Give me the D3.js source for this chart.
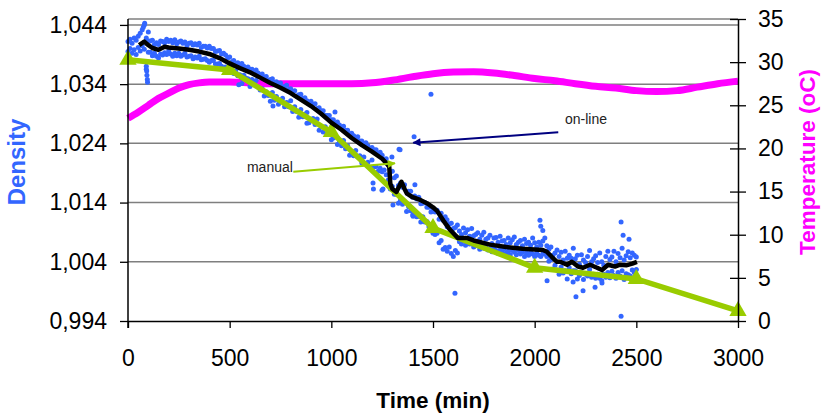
<!DOCTYPE html>
<html><head><meta charset="utf-8">
<script src="https://cdn.jsdelivr.net/npm/d3@7"></script>
<style>
body{margin:0;background:#fff}
svg{display:block}
text{font-family:"Liberation Sans",Arial,Helvetica,sans-serif}
</style>
</head><body>
<svg id="chart" width="822" height="414"></svg>
<script>
// ---------------- DATA ----------------
const timeTicks = [0,500,1000,1500,2000,2500,3000];
const densityTicks = [0.994,1.004,1.014,1.024,1.034,1.044];
const densityTickLabels = ["0,994","1,004","1,014","1,024","1,034","1,044"];
const tempTicks = [0,5,10,15,20,25,30,35];

// manual density measurements (green)
const manualTimes = [0,500,1000,1500,2000,2500,3000];
const manualDensity = [1.0381,1.0364,1.0259,1.0097,1.0030,1.0011,0.9957];

// on-line density readings (blue), sampled every 10 min from 0 to 2500
const onlineTimes = d3.range(0, 2501, 10);
const onlineDensityA = [
1.0412,1.0416,1.0409,1.0418,1.0414,1.0421,1.0426,1.0432,1.0440,1.0418,1.0413,
1.0413,1.0414,1.0407,1.0410,1.0407,1.0413,1.0412,1.0410,1.0416,1.0412,1.0414,1.0410,1.0415,1.0408,1.0411,1.0413,1.0409,1.0411,1.0405,1.0409,
1.0410,1.0406,1.0408,1.0406,1.0409,1.0402,1.0404,1.0404,1.0401,1.0404,1.0400,1.0400,1.0395,1.0396,1.0397,1.0391,1.0392,1.0389,1.0384,1.0386,
1.0378,1.0380,1.0373,1.0376,1.0371,1.0375,1.0370,1.0365,1.0369,1.0365,1.0365,1.0359,1.0364,1.0359,1.0355,1.0357,1.0352,1.0353,1.0346,1.0348,
1.0349,1.0343,1.0344,1.0341,1.0342,1.0335,1.0336,1.0338,1.0331,1.0332,1.0328,1.0329,1.0320,1.0322,1.0323,1.0316,1.0317,1.0312,1.0308,1.0311,
1.0306,1.0307,1.0299,1.0300,1.0295,1.0295,1.0287,1.0287,1.0287,1.0280,1.0280,1.0274,1.0276,1.0271,1.0266,1.0269,1.0262,1.0262,1.0256,1.0257,
1.0253,1.0247,1.0251,1.0244,1.0244,1.0239,1.0241,1.0236,1.0230,1.0233,1.0229,1.0229,1.0223,1.0225,1.0220,1.0213,1.0214,
1.0204,1.0192,1.0193,1.0182,1.0185,1.0169,1.0173,1.0166,1.0170,1.0159,1.0159,1.0159,1.0149,1.0151,1.0146,1.0149,1.0138,1.0139,1.0140,1.0132,
1.0132,1.0124,1.0126,
1.0124,1.0127,1.0112,1.0122,1.0110,1.0116,1.0099,1.0104,1.0105,1.0096,1.0098,1.0102,
1.0092,1.0086,1.0097,1.0089,1.0094,1.0083,1.0096,1.0084,1.0086,1.0089,1.0078,1.0085,1.0090,1.0078,1.0080,1.0085,1.0071,1.0080,1.0081,1.0073,
1.0083,1.0075,1.0076,1.0069,1.0080,1.0072,1.0077,1.0082,1.0069,1.0073,1.0076,1.0067,1.0078,1.0071,1.0073,1.0068,1.0080,1.0072,1.0065,1.0073,
1.0068,1.0075,1.0080,1.0067,
1.0061,1.0065,1.0051,1.0055,1.0060,1.0049,1.0056,1.0043,1.0058,1.0046,1.0051,1.0046,1.0063,1.0045,1.0051,1.0036,1.0052,1.0043,1.0039,1.0049,
1.0059,1.0040,1.0045,1.0050,1.0039,1.0055,1.0040,1.0034,1.0049,1.0058,1.0044,1.0048,1.0058,1.0040,1.0054,1.0047,1.0063,1.0043,1.0050,1.0057,
1.0047,1.0055,1.0051,1.0048
];
const onlineDensityB = [
1.0395,1.0400,1.0392,1.0398,1.0390,1.0402,1.0396,1.0405,1.0399,1.0365,1.0394,
1.0394,1.0388,1.0392,1.0387,1.0384,1.0391,1.0389,1.0393,1.0390,1.0396,1.0391,1.0387,1.0392,1.0388,1.0392,1.0387,1.0389,1.0392,1.0386,1.0387,
1.0388,1.0383,1.0386,1.0384,1.0387,1.0381,1.0382,1.0383,1.0380,1.0377,1.0380,1.0380,1.0374,1.0374,1.0375,1.0370,1.0366,1.0369,1.0366,1.0362,
1.0363,1.0358,1.0362,1.0354,1.0356,1.0350,1.0355,1.0350,1.0349,1.0343,1.0348,1.0341,1.0346,1.0335,1.0330,1.0332,1.0320,1.0327,1.0321,1.0311,
1.0326,1.0313,1.0319,1.0306,1.0312,1.0316,1.0302,1.0309,1.0302,1.0312,1.0294,1.0302,1.0294,1.0284,1.0297,1.0285,1.0289,1.0292,1.0275,1.0280,
1.0282,1.0272,1.0281,1.0262,1.0268,1.0259,1.0268,1.0256,1.0258,1.0246,1.0249,1.0253,1.0238,1.0244,1.0236,1.0245,1.0231,1.0236,1.0220,1.0226,
1.0219,1.0228,1.0217,1.0219,1.0207,1.0217,1.0206,1.0208,1.0199,1.0212,1.0200,1.0201,1.0193,1.0198,1.0192,1.0195,1.0187,
1.0178,1.0163,1.0167,1.0154,1.0154,1.0139,1.0144,1.0137,1.0142,1.0125,1.0133,1.0126,1.0119,1.0125,1.0116,1.0117,1.0107,1.0116,1.0107,1.0108,
1.0099,1.0099,1.0088,
1.0086,1.0088,1.0072,1.0076,1.0061,1.0064,1.0058,1.0065,1.0054,1.0049,1.0059,1.0055,
1.0074,1.0070,1.0076,1.0068,1.0073,1.0070,1.0074,1.0065,1.0067,1.0069,1.0061,1.0066,1.0063,1.0067,1.0060,1.0062,1.0057,1.0063,1.0059,1.0054,
1.0060,1.0057,1.0062,1.0055,1.0058,1.0052,1.0059,1.0056,1.0052,1.0059,1.0053,1.0056,1.0049,1.0055,1.0051,1.0056,1.0053,1.0049,1.0055,1.0051,
1.0049,1.0053,1.0053,1.0049,
1.0041,1.0044,1.0028,1.0034,1.0026,1.0019,1.0031,1.0021,1.0025,1.0011,1.0030,1.0020,1.0025,1.0025,1.0011,1.0017,1.0022,1.0010,1.0019,1.0016,
1.0027,1.0014,1.0019,1.0012,1.0019,1.0012,1.0008,1.0019,1.0014,1.0022,1.0013,1.0024,1.0017,1.0012,1.0022,1.0016,1.0025,1.0010,1.0020,1.0018,
1.0016,1.0026,1.0022,1.0027
];
// scattered on-line readings away from the main band
const outlierTimes = [75,82,100,88,90,92,93,95,96,545,560,600,713,880,1018,1205,1207,1249,1254,1298,1303,1333,1338,1402,1407,1411,1490,1569,1608,2026,2030,2040,2061,2189,2203,2238,2297,2331,2425,2425,2435,2464];
const outlierDensity = [1.0436,1.0443,1.0428,1.0378,1.0370,1.0362,1.0355,1.0348,1.0343,1.0339,1.0341,1.0336,1.0303,1.0274,1.0293,1.0173,1.0163,1.0161,1.0163,1.0217,1.0136,1.0230,1.0229,1.0117,1.0251,1.0170,1.0323,1.0111,0.9987,1.0110,1.0100,1.0093,1.0008,1.0006,0.9981,0.9991,0.9997,1.0004,0.9948,1.0107,1.0085,1.0078];

// smoothed on-line density (black)
const smoothTimes = [55,80,95,120,150,180,200,250,300,350,400,450,500,550,600,650,700,750,800,850,900,950,1000,1050,1100,1150,1200,1250,1275,1285,1290,1300,1320,1345,1360,1372,1400,1440,1470,1500,1520,1550,1584,1623,1650,1670,1700,1780,1860,1940,2040,2060,2085,2110,2125,2159,2183,2213,2238,2272,2307,2331,2361,2395,2420,2450,2480,2503];
const smoothDensity = [1.0406,1.0412,1.0407,1.0401,1.0398,1.0403,1.0402,1.0400,1.0398,1.0395,1.0391,1.0384,1.0375,1.0367,1.0360,1.0351,1.0342,1.0334,1.0325,1.0314,1.0303,1.0290,1.0275,1.0263,1.0249,1.0237,1.0226,1.0214,1.0205,1.0200,1.0172,1.0163,1.0158,1.0175,1.0163,1.0155,1.0149,1.0144,1.0139,1.0132,1.0126,1.0110,1.0094,1.0080,1.0080,1.0080,1.0076,1.0069,1.0065,1.0062,1.0060,1.0057,1.0048,1.0040,1.0040,1.0035,1.0040,1.0032,1.0030,1.0035,1.0030,1.0026,1.0035,1.0032,1.0035,1.0034,1.0037,1.0040];

// temperature (magenta, right axis)
const tempTimes = [0,50,100,150,200,250,300,350,400,500,600,700,800,900,1000,1100,1200,1300,1400,1500,1600,1700,1800,1900,2000,2100,2200,2300,2400,2500,2600,2700,2800,2900,3000];
const tempValues = [23.5,24.2,25.0,25.8,26.4,27.0,27.4,27.6,27.7,27.7,27.6,27.5,27.5,27.5,27.5,27.5,27.6,27.9,28.3,28.65,28.85,28.9,28.75,28.45,28.1,27.85,27.5,27.2,27.0,26.7,26.6,26.7,27.1,27.5,27.8];

// ---------------- CHART ----------------
const W = 822, H = 414;
const M = {left:128, right:84, top:19, bottom:93};
const x = d3.scaleLinear().domain([0,3000]).range([M.left, W - M.right]);
const yL = d3.scaleLinear().domain([0.994,1.045]).range([H - M.bottom, M.top]);
const yR = d3.scaleLinear().domain([0,35]).range([H - M.bottom, M.top]);

const BLUE = "#3366ff", MAGENTA = "#ff00ff", GREEN = "#99cc00", NAVY = "#000080";
const svg = d3.select("#chart");

const defs = svg.append("defs");
function marker(id, color){
  defs.append("marker").attr("id", id).attr("viewBox","0 0 10 10")
    .attr("refX", 9).attr("refY", 5).attr("markerWidth", 4.5).attr("markerHeight", 4)
    .attr("markerUnits","strokeWidth").attr("orient","auto")
    .append("path").attr("d","M0,0 L10,5 L0,10 Z").attr("fill", color);
}
marker("arrGreen", GREEN);
marker("arrNavy", NAVY);

// gridlines
const grid = svg.append("g");
grid.selectAll("line.g").data(densityTicks.slice(1)).join("line")
  .attr("x1", x(0)).attr("x2", x(3000))
  .attr("y1", d => yL(d)).attr("y2", d => yL(d))
  .attr("stroke", "#7f7f7f").attr("stroke-width", 1.5);
grid.append("line").attr("x1", x(0)).attr("x2", x(3000))
  .attr("y1", yL(1.045)).attr("y2", yL(1.045))
  .attr("stroke", "#7f7f7f").attr("stroke-width", 1.5);

// temperature line
svg.append("path")
  .datum(tempTimes.map((t,i)=>[t,tempValues[i]]))
  .attr("fill","none").attr("stroke",MAGENTA).attr("stroke-width",7)
  .attr("d", d3.line().x(d=>x(d[0])).y(d=>yR(d[1])).curve(d3.curveMonotoneX));

// blue on-line points
const pts = [];
onlineTimes.forEach((t,i)=>{ pts.push([t,onlineDensityA[i]]); pts.push([t,onlineDensityB[i]]); });
outlierTimes.forEach((t,i)=>pts.push([t,outlierDensity[i]]));
svg.append("g").selectAll("circle").data(pts).join("circle")
  .attr("cx", d=>x(d[0])).attr("cy", d=>yL(d[1])).attr("r", 2.5).attr("fill", BLUE);

// manual line + triangles
const manual = manualTimes.map((t,i)=>[t,manualDensity[i]]);
svg.append("path").datum(manual)
  .attr("fill","none").attr("stroke",GREEN).attr("stroke-width",5.5)
  .attr("d", d3.line().x(d=>x(d[0])).y(d=>yL(d[1])));
svg.append("g").selectAll("path").data(manual).join("path")
  .attr("transform", d=>`translate(${x(d[0])},${yL(d[1])})`)
  .attr("d", d3.symbol().type(d3.symbolTriangle).size(130))
  .attr("fill", GREEN);

// smoothed black line
svg.append("path")
  .datum(smoothTimes.map((t,i)=>[t,smoothDensity[i]]))
  .attr("fill","none").attr("stroke","#000").attr("stroke-width",4.5)
  .attr("stroke-linejoin","round")
  .attr("d", d3.line().x(d=>x(d[0])).y(d=>yL(d[1])));

// axes
const fs = "23px";
const axL = svg.append("g").attr("transform",`translate(${x(0)},0)`)
  .call(d3.axisLeft(yL).tickValues(densityTicks).tickFormat((d,i)=>densityTickLabels[i])
        .tickSizeInner(8).tickSizeOuter(0).tickPadding(13));
const axR = svg.append("g").attr("transform",`translate(${x(3000)},0)`)
  .call(d3.axisRight(yR).tickValues(tempTicks).tickFormat(d3.format("d"))
        .tickSizeInner(8).tickSizeOuter(0).tickPadding(12));
axR.selectAll(".tick line").attr("x1", -8).attr("x2", 8);
const axB = svg.append("g").attr("transform",`translate(0,${yL(0.994)})`)
  .call(d3.axisBottom(x).tickValues(timeTicks).tickFormat(d3.format("d"))
        .tickSizeInner(7).tickSizeOuter(0));
axB.selectAll(".tick text").attr("dy", null).attr("y", 45);
[axL, axR, axB].forEach(a=>{
  a.selectAll(".domain").attr("stroke","#000").attr("stroke-width",1.5);
  a.selectAll(".tick line").attr("stroke","#000").attr("stroke-width",1.3);
  a.selectAll(".tick text").attr("fill","#000").style("font-size",fs)
   .style("font-family","'Liberation Sans',Arial,sans-serif");
});
axL.select(".domain").attr("d", `M0,${yL(1.045)}V${yL(0.994)+7}`);

// axis titles
svg.append("text").attr("transform",`translate(25,162) rotate(-90)`)
  .attr("text-anchor","middle").attr("fill",BLUE)
  .style("font-size","24px").style("font-weight","bold").text("Density");
svg.append("text").attr("transform",`translate(815,162) rotate(-90)`)
  .attr("text-anchor","middle").attr("fill",MAGENTA)
  .style("font-size","22.5px").style("font-weight","bold").text("Temperature (oC)");
svg.append("text").attr("x", (x(0)+x(3000))/2).attr("y", 408)
  .attr("text-anchor","middle").attr("fill","#000")
  .style("font-size","22.5px").style("font-weight","bold").text("Time (min)");

// annotations (anchored in data units)
svg.append("line")
  .attr("x1", x(813)).attr("y1", yL(1.0192)).attr("x2", x(1313)).attr("y2", yL(1.02063))
  .attr("stroke", GREEN).attr("stroke-width", 2).attr("marker-end","url(#arrGreen)");
svg.append("text").attr("x", x(585)).attr("y", yL(1.0192))
  .style("font-size","14px").attr("fill","#222").text("manual");
svg.append("line")
  .attr("x1", x(2116)).attr("y1", yL(1.02586)).attr("x2", x(1403)).attr("y2", yL(1.02411))
  .attr("stroke", NAVY).attr("stroke-width", 2).attr("marker-end","url(#arrNavy)");
svg.append("text").attr("x", x(2149)).attr("y", yL(1.02733))
  .style("font-size","14px").attr("fill","#222").text("on-line");
</script>
</body></html>
